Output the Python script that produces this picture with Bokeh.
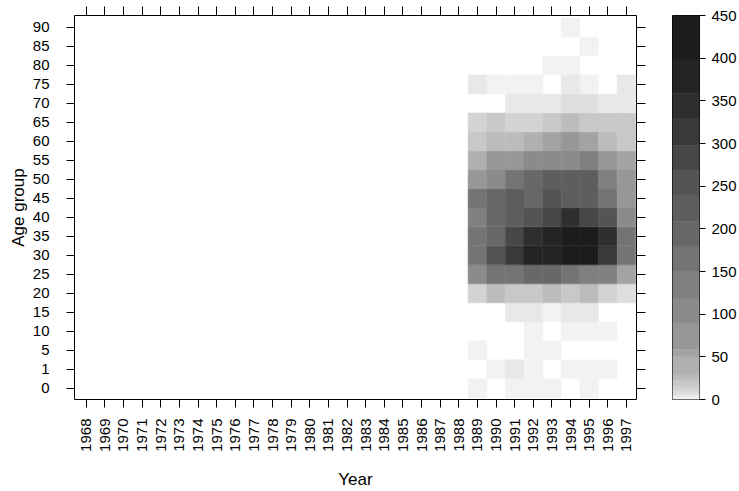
import math
from bokeh.plotting import figure
from bokeh.layouts import row
from bokeh.models import ColumnDataSource, FixedTicker, LinearAxis, CustomJSTickFormatter
from bokeh.embed import file_html
from bokeh.resources import INLINE

# ---- data -------------------------------------------------------------
years = list(range(1968, 1998))
age_labels = ["0", "1", "5", "10", "15", "20", "25", "30", "35", "40",
              "45", "50", "55", "60", "65", "70", "75", "80", "85", "90"]

# values per year, ordered by age group (0, 1, 5, ..., 90); None = no data
y1989 = [2, None, 2, None, None, 12, 104, 168, 162, 138, 158, 78, 42, 19, 13, None, 5, None, None, None]
y1990 = [None, 2, None, None, None, 25, 160, 250, 190, 200, 185, 110, 80, 27, 20, None, 1, None, None, None]
y1991 = [2, 5, None, None, 4, 19, 170, 310, 280, 220, 215, 172, 82, 24, 12, 4, 2, None, None, None]
y1992 = [1, 2, 1, 2, 5, 18, 198, 375, 340, 255, 190, 200, 100, 45, 13, 5, 2, None, None, None]
y1993 = [2, None, 1, None, 2, 23, 205, 390, 370, 290, 260, 230, 108, 56, 21, 5, None, 2, None, None]
y1994 = [None, 2, None, 1, 4, 20, 175, 440, 420, 350, 225, 235, 112, 70, 26, 8, 4, 1, None, 2]
y1995 = [1, 2, None, 2, 5, 24, 140, 430, 410, 270, 218, 228, 125, 52, 18, 9, 2, None, 1, None]
y1996 = [None, 1, None, 2, None, 14, 130, 305, 335, 245, 155, 128, 76, 28, 19, 5, None, None, None, None]
y1997 = [None, None, None, None, None, 8, 55, 160, 165, 95, 72, 68, 54, 17, 20, 5, 4, None, None, None]

data_years = [1989, 1990, 1991, 1992, 1993, 1994, 1995, 1996, 1997]
series = [y1989, y1990, y1991, y1992, y1993, y1994, y1995, y1996, y1997]

# colour key breaks and grey levels
breaks = [0, 3, 6, 10, 15, 22, 29, 50, 59, 89, 119, 150, 179, 209, 239, 268, 298, 330, 359, 399, 450]
grays = ["#f2f2f2", "#e8e8e8", "#dedede", "#d3d3d3", "#c8c8c8", "#bcbcbc", "#b0b0b0",
         "#a3a3a3", "#979797", "#8b8b8b", "#808080", "#747474", "#686868", "#5e5e5e",
         "#545454", "#474747", "#393939", "#2e2e2e", "#242424", "#1c1c1c"]
key_ticks = [0, 50, 100, 150, 200, 250, 300, 350, 400, 450]


def level_color(v):
    for k in range(len(grays)):
        if breaks[k] <= v < breaks[k + 1]:
            return grays[k]
    return grays[-1]


xs, ys, cols = [], [], []
for yr, vals in zip(data_years, series):
    for i, v in enumerate(vals):
        if v is None:
            continue
        xs.append(yr)
        ys.append(i)
        cols.append(level_color(v))
src = ColumnDataSource(dict(x=xs, y=ys, c=cols))

FONT = "Liberation Sans"
TICK_FS = "15px"

# ---- main panel --------------------------------------------------------
p = figure(width=650, height=491, x_range=(1967.37, 1997.54), y_range=(-0.59, 19.63),
           output_backend="svg", toolbar_location=None,
           x_axis_location=None, y_axis_location=None,
           min_border_left=74, min_border_right=14, min_border_top=15, min_border_bottom=89)
p.grid.visible = False
p.outline_line_color = "black"
p.outline_line_width = 1
p.background_fill_color = "white"
p.border_fill_color = "white"

p.rect(x="x", y="y", width=1, height=1, source=src,
       fill_color="c", line_color="c", line_width=0.5)

xa = LinearAxis(ticker=FixedTicker(ticks=years), axis_label="Year",
                major_label_orientation=math.pi / 2,
                major_label_text_font_size=TICK_FS)
ya = LinearAxis(ticker=FixedTicker(ticks=list(range(len(age_labels)))), axis_label="Age group",
                major_label_overrides={i: s for i, s in enumerate(age_labels)},
                major_label_text_font_size=TICK_FS)

for ax in (xa, ya):
    ax.axis_line_color = None
    ax.major_tick_in = 0
    ax.major_tick_out = 8
    ax.major_tick_line_color = "black"
    ax.minor_tick_line_color = None
    ax.major_label_text_font = FONT
    ax.major_label_text_color = "black"
    ax.axis_label_text_font = FONT
    ax.axis_label_text_font_size = "17px"
    ax.axis_label_text_font_style = "normal"
    ax.axis_label_text_color = "black"
xa.major_label_standoff = 11
xa.axis_label_standoff = 15
ya.major_label_standoff = 17
ya.axis_label_standoff = 2
p.add_layout(xa, "below")
p.add_layout(ya, "left")

top = LinearAxis(ticker=FixedTicker(ticks=years),
                 formatter=CustomJSTickFormatter(code="return '';"))
right = LinearAxis(ticker=FixedTicker(ticks=list(range(len(age_labels)))),
                   formatter=CustomJSTickFormatter(code="return '';"))
for ax in (top, right):
    ax.axis_line_color = None
    ax.major_tick_in = 0
    ax.major_tick_out = 9
    ax.minor_tick_line_color = None
    ax.major_label_standoff = 0
p.add_layout(top, "above")
p.add_layout(right, "right")

# ---- colour key ----------------------------------------------------------
cb = figure(width=89, height=491, x_range=(0, 1), y_range=(0, 450),
            output_backend="svg", toolbar_location=None,
            x_axis_location=None, y_axis_location="right",
            min_border_left=22, min_border_right=40, min_border_top=14, min_border_bottom=89)
cb.grid.visible = False
cb.outline_line_color = "black"
cb.outline_line_width = 1
cb.border_fill_color = "white"
ksrc = ColumnDataSource(dict(b=breaks[:-1], t=breaks[1:], c=grays))
cb.quad(left=0, right=1, bottom="b", top="t", fill_color="c", line_color="c",
        line_width=0.5, source=ksrc)
ka = cb.yaxis
ka.ticker = FixedTicker(ticks=key_ticks)
ka.axis_line_color = None
ka.major_tick_in = 0
ka.major_tick_out = 6
ka.minor_tick_line_color = None
ka.major_label_standoff = 6
ka.major_label_text_font = FONT
ka.major_label_text_font_size = TICK_FS
ka.major_label_text_color = "black"

layout = row(p, cb)
open("out.html", "w").write(file_html(layout, INLINE))
